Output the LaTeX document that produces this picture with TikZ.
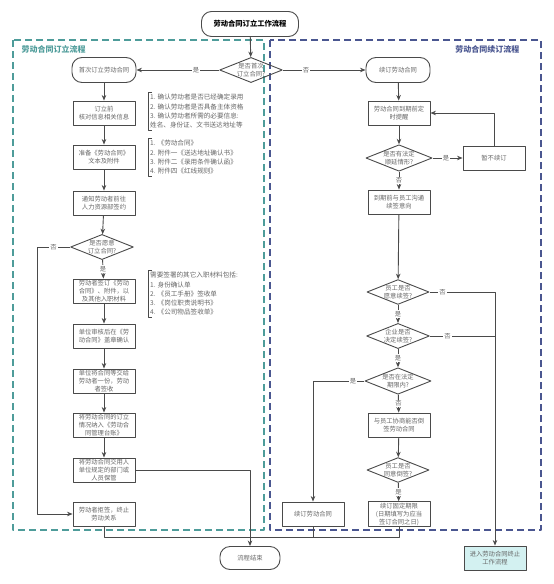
\documentclass[tikz,border=0pt]{standalone}
\usepackage{fontspec}
\setmainfont{Noto Sans CJK SC}
\usetikzlibrary{shapes.geometric, arrows.meta}
\definecolor{linegray}{HTML}{4A4A4A}
\definecolor{textgray}{HTML}{666666}
\definecolor{tealframe}{HTML}{4E9C9A}
\definecolor{blueframe}{HTML}{4A5690}
\definecolor{endfill}{HTML}{D3F1F1}
\begin{document}
\begin{tikzpicture}[x=1pt, y=-1pt, font=\fontsize{6.3}{8}\selectfont, line join=round, >={Stealth[length=5.5pt, width=4.5pt]},
	startstop/.style={draw=linegray, line width=0.9pt, rounded corners=10pt, minimum width=64pt, minimum height=25pt, text=textgray, align=center, inner sep=1pt},
	procbox/.style={draw=linegray, line width=0.9pt, minimum width=62pt, minimum height=24pt, text=textgray, align=center, inner sep=1pt},
	decide/.style={draw=linegray, line width=0.9pt, diamond, aspect=2.5, minimum width=60pt, minimum height=24pt, inner sep=0pt, text=textgray, align=center},
	note/.style={anchor=north west, align=left, text=textgray, inner sep=2pt, font=\fontsize{6.6}{9.3}\selectfont},
	lab/.style={fill=white, inner sep=1pt, text=textgray},
	arr/.style={->, draw=linegray, line width=0.9pt},
	conn/.style={draw=linegray, line width=0.9pt}]
	\useasboundingbox (0,0) rectangle (554,584);
	% frames
	\draw[tealframe, line width=1.2pt, dash pattern=on 7pt off 4pt] (13,40) rectangle (264,530);
	\draw[blueframe, line width=1.2pt, dash pattern=on 7pt off 4pt] (270,40) rectangle (541,530);
	\node[anchor=west, text=tealframe, font=\fontsize{8}{9}\selectfont\bfseries] (ttlA) at (18,49) {劳动合同订立流程};
	\node[anchor=east, text=blueframe, font=\fontsize{8}{9}\selectfont\bfseries] (ttlB) at (523,49) {劳动合同续订流程};
	% top
	\node[startstop, minimum width=97pt, text=black, font=\fontsize{7.3}{9}\selectfont\bfseries] (title) at (250,24) {劳动合同订立工作流程};
	\node[decide] (q1) at (251,70) {是否首次\\订立合同?};
	% first contract
	\node[startstop] (a1) at (104,70) {首次订立劳动合同};
	\node[procbox] (a2) at (104,113) {订立前\\核对信息相关信息};
	\node[procbox] (a3) at (104,157) {准备《劳动合同》\\文本及附件};
	\node[procbox] (a4) at (104,203) {通知劳动者前往\\人力资源部签约};
	\node[decide] (q2) at (102,247) {是否愿意\\订立合同?};
	\node[procbox] (a5) at (104,291) {劳动者签订《劳动\\合同》、附件，以\\及其他入职材料};
	\node[procbox] (a6) at (104,336) {单位审核后在《劳\\动合同》盖章确认};
	\node[procbox] (a7) at (104,381) {单位将合同等交给\\劳动者一份，劳动\\者签收};
	\node[procbox] (a8) at (104,425) {将劳动合同的订立\\情况纳入《劳动合\\同管理台账》};
	\node[procbox] (a9) at (104,470) {将劳动合同交用人\\单位规定的部门或\\人员保管};
	\node[procbox] (a10) at (104,514) {劳动者拒签，终止\\劳动关系};
	\node[note] (n1) at (148,92) {1. 确认劳动者是否已经确定录用\\2. 确认劳动者是否具备主体资格\\3. 确认劳动者所需的必要信息:\\姓名、身份证、文书送达地址等};
	\node[note] (n2) at (148,138) {1. 《劳动合同》\\2. 附件一《送达地址确认书》\\3. 附件二《录用条件确认函》\\4. 附件四《红线规则》};
	\node[note] (n3) at (148,270) {需要签署的其它入职材料包括:\\1. 身份确认单\\2. 《员工手册》签收单\\3. 《岗位职责说明书》\\4. 《公司物品签收单》};
	\foreach \n in {n1,n2,n3}
		\draw[linegray, line width=0.8pt] ([xshift=4pt]\n.north west) -- (\n.north west) -- (\n.south west) -- ([xshift=4pt]\n.south west);
	% renewal
	\node[startstop] (b1) at (398,70) {续订劳动合同};
	\node[procbox] (b2) at (399,113) {劳动合同到期前定\\时提醒};
	\node[decide] (q3) at (399,158) {是否有法定\\顺延情形?};
	\node[procbox] (b3) at (494,158) {暂不续订};
	\node[procbox] (b4) at (399,202) {到期前与员工沟通\\续签意向};
	\node[decide] (q4) at (398,292) {员工是否\\愿意续签?};
	\node[decide] (q5) at (398,336) {企业是否\\决定续签?};
	\node[decide] (q6) at (398,381) {是否在法定\\期限内?};
	\node[procbox] (b5) at (399,425) {与员工协商能否倒\\签劳动合同};
	\node[decide] (q7) at (398,470) {员工是否\\同意倒签?};
	\node[procbox] (b6) at (399,514) {续订固定期限\\(日期填写为应当\\签订合同之日)};
	\node[procbox] (b7) at (313,514) {续订劳动合同};
	\node[startstop, minimum width=60pt, minimum height=23pt] (end) at (250,558) {流程结束};
	\node[procbox, fill=endfill] (b8) at (495,558) {进入劳动合同终止\\工作流程};
	\coordinate (m) at (250,537);
	% connectors
	\draw[arr] (title) -- (q1);
	\draw[arr] (q1.west) -- node[lab, pos=0.28]{是} (a1.east);
	\draw[arr] (q1.east) -- node[lab, pos=0.28]{否} (b1.west);
	\draw[arr] (a1) -- (a2);
	\draw[arr] (a2) -- (a3);
	\draw[arr] (a3) -- (a4);
	\draw[arr] (a4) -- (q2);
	\draw[arr] (q2) -- node[lab]{是} (a5);
	\draw[arr] (q2.west) -- node[lab]{否} ++(-33,0) |- (a10.west);
	\draw[arr] (a5) -- (a6);
	\draw[arr] (a6) -- (a7);
	\draw[arr] (a7) -- (a8);
	\draw[arr] (a8) -- (a9);
	\draw[arr] (a9.east) -| (end.north);
	\draw[conn] (a10.south) |- (m);
	\draw[conn] (b7.south) |- (m);
	\draw[conn] (b6.south) |- (m);
	\draw[arr] (b1) -- (b2);
	\draw[arr] (b2) -- (q3);
	\draw[arr] (q3) -- node[lab, pos=0.45]{是} (b3);
	\draw[arr] (b3.north) |- (b2.east);
	\draw[arr] (q3) -- node[lab]{否} (b4);
	\draw[arr] (b4) -- (q4);
	\draw[arr] (q4) -- node[lab]{是} (q5);
	\draw[arr] (q5) -- node[lab]{是} (q6);
	\draw[arr] (q6) -- node[lab]{否} (b5);
	\draw[arr] (b5) -- (q7);
	\draw[arr] (q7) -- node[lab]{是} (b6);
	\draw[arr] (q4.east) -| node[lab, pos=0.1]{否} (b8.north);
	\draw[conn] (q5.east) -- node[lab, pos=0.27]{否} (q5.east -| b8.north);
	\draw[arr] (q6.west) -| node[lab, pos=0.11]{是} (b7.north);
\end{tikzpicture}
\end{document}
